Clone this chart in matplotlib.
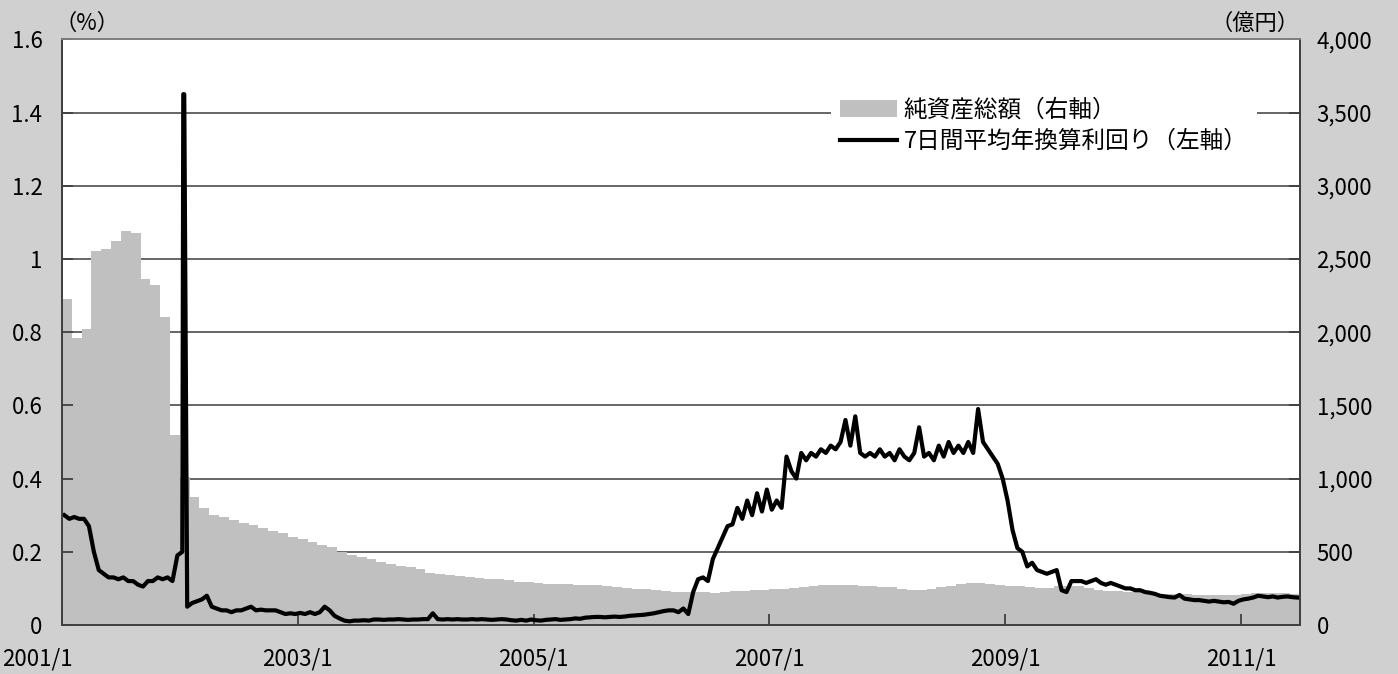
import matplotlib
matplotlib.use("Agg")
import matplotlib.pyplot as plt
from matplotlib.patches import Patch
from matplotlib.lines import Line2D

plt.rcParams['font.family'] = ['Noto Sans CJK JP', 'DejaVu Sans']

# monthly net assets (億円), 2001/1 .. 2011/6
net_assets = [
    2225, 1959, 2020, 2553, 2567, 2621, 2689, 2676, 2362, 2321, 2102, 1297,  # 2001
    1010, 874, 799, 751, 737, 717, 696, 683, 662, 642, 628, 601,             # 2002
    587, 567, 546, 532, 498, 478, 464, 450, 430, 416, 403, 396,              # 2003
    382, 357, 345, 341, 335, 328, 318, 314, 312, 305, 297, 292,              # 2004
    287, 282, 280, 278, 276, 273, 270, 265, 260, 252, 246, 243,              # 2005
    238, 232, 228, 224, 226, 222, 221, 222, 232, 234, 236, 240,              # 2006
    246, 248, 252, 260, 264, 270, 276, 275, 272, 268, 265, 262,              # 2007
    258, 248, 242, 240, 244, 258, 265, 278, 288, 290, 282, 276,              # 2008
    268, 266, 260, 255, 255, 268, 266, 264, 250, 236, 233, 230,              # 2009
    224, 222, 220, 214, 212, 212, 210, 206, 205, 204, 205, 208,              # 2010
    214, 216, 216, 218, 216, 214,                                            # 2011
]

# 7-day average annualised yield (%), sampled twice a month
yield_pct = [
    0.30, 0.29, 0.295, 0.29, 0.29, 0.27, 0.20, 0.15, 0.14, 0.13, 0.13, 0.125,
    0.13, 0.12, 0.12, 0.11, 0.105, 0.12, 0.12, 0.13, 0.125, 0.13, 0.12, 0.19,
    0.20, 0.05, 0.06, 0.065, 0.07, 0.08, 0.05, 0.045, 0.04, 0.04, 0.035, 0.04,
    0.04, 0.045, 0.05, 0.04, 0.042, 0.04, 0.04, 0.04, 0.035, 0.03, 0.032, 0.03,
    0.033, 0.03, 0.035, 0.03, 0.035, 0.05, 0.04, 0.025, 0.018, 0.012, 0.01, 0.012,
    0.012, 0.013, 0.012, 0.015, 0.015, 0.014, 0.015, 0.015, 0.016, 0.015, 0.014, 0.015,
    0.015, 0.016, 0.016, 0.032, 0.016, 0.015, 0.016, 0.015, 0.016, 0.015, 0.015, 0.016,
    0.015, 0.016, 0.015, 0.014, 0.015, 0.016, 0.015, 0.013, 0.012, 0.014, 0.012, 0.015,
    0.013, 0.012, 0.014, 0.015, 0.016, 0.014, 0.015, 0.016, 0.018, 0.017, 0.02, 0.021,
    0.022, 0.022, 0.021, 0.022, 0.023, 0.022, 0.023, 0.025, 0.026, 0.027, 0.028, 0.03,
    0.032, 0.035, 0.038, 0.04, 0.04, 0.035, 0.045, 0.03, 0.09, 0.125, 0.13, 0.12,
    0.18, 0.21, 0.24, 0.27, 0.275, 0.32, 0.29, 0.34, 0.30, 0.36, 0.31, 0.37,
    0.315, 0.34, 0.32, 0.46, 0.42, 0.40, 0.47, 0.45, 0.47, 0.46, 0.48, 0.47,
    0.49, 0.48, 0.50, 0.56, 0.49, 0.57, 0.47, 0.46, 0.47, 0.46, 0.48, 0.46,
    0.47, 0.45, 0.48, 0.46, 0.45, 0.47, 0.54, 0.46, 0.47, 0.45, 0.49, 0.46,
    0.50, 0.47, 0.49, 0.47, 0.50, 0.47, 0.59, 0.50, 0.48, 0.46, 0.44, 0.40,
    0.34, 0.26, 0.21, 0.20, 0.16, 0.17, 0.15, 0.145, 0.14, 0.145, 0.15, 0.095,
    0.09, 0.12, 0.12, 0.12, 0.115, 0.12, 0.125, 0.115, 0.11, 0.115, 0.11, 0.105,
    0.10, 0.10, 0.095, 0.095, 0.09, 0.088, 0.085, 0.08, 0.078, 0.076, 0.075, 0.082,
    0.072, 0.07, 0.068, 0.068, 0.066, 0.064, 0.066, 0.064, 0.062, 0.063, 0.058, 0.066,
    0.07, 0.072, 0.075, 0.08, 0.078, 0.076, 0.078, 0.075, 0.077, 0.078, 0.076, 0.075,
]

# the one-off spike in early 2002 (month index, %)
spike_month = [12.35, 12.45]
spike_pct = [1.45, 1.45]

tick_months = [0, 24, 48, 72, 96, 120]
tick_labels = ["2001/1", "2003/1", "2005/1", "2007/1", "2009/1", "2011/1"]

bar_label = "純資産総額（右軸）"
line_label = "7日間平均年換算利回り（左軸）"

bg = "#d0d0d0"
bar_color = "#c0c0c0"
grid_color = "#5a5a5a"
axis_color = "#404040"
xpad = 16

fig = plt.figure(figsize=(13.98, 6.74), dpi=100, facecolor=bg)
ax2 = fig.add_axes([0.0443, 0.0727, 0.8855, 0.869])
ax = ax2.twinx()
ax.set_zorder(ax2.get_zorder() + 1)
ax.patch.set_visible(False)
ax2.set_facecolor("white")

months = list(range(len(net_assets)))
ax2.bar(months, net_assets, width=1.0, align="edge", color=bar_color, lw=0)

# merge the semi-monthly yield with the spike
xs = [i * 0.5 + 0.25 for i in range(len(yield_pct))] + spike_month
ys = yield_pct + spike_pct
pts = sorted(zip(xs, ys))
ax.plot([p[0] for p in pts], [p[1] for p in pts], color="black", lw=3.0,
        solid_joinstyle="round")

# the line belongs to the left axis, bars to the right one
ax.yaxis.tick_left()
ax2.yaxis.tick_right()
ax.xaxis.set_visible(True)

ax.set_xlim(0, 126)
ax.set_ylim(0, 1.6)
ax2.set_ylim(0, 4000)
ax.set_yticks([i * 0.2 for i in range(9)])
ax.set_yticklabels(["0", "0.2", "0.4", "0.6", "0.8", "1", "1.2", "1.4", "1.6"])
ax2.set_yticks(range(0, 4001, 500))
ax2.set_yticklabels([f"{v:,}" for v in range(0, 4001, 500)])

ax2.set_axisbelow(True)
ax2.yaxis.grid(True, color=grid_color, lw=1.3)
ax2.xaxis.grid(False)

# first date label sits left of the axis corner, so it is drawn separately
ax.set_xticks(tick_months)
ax.set_xticklabels([""] + tick_labels[1:])
ax.annotate(tick_labels[0], xy=(0, 0), xycoords="axes fraction",
            xytext=(-43, -xpad), textcoords="offset points",
            ha="left", va="top", fontsize=16)
ax2.tick_params(axis="x", length=0, labelbottom=False)

ax.tick_params(axis="y", direction="in", length=8, width=1.3, labelsize=16,
               pad=14, color=axis_color)
ax.tick_params(axis="x", direction="in", length=8, width=1.3, labelsize=16,
               pad=xpad, color=axis_color, bottom=True, labelbottom=True)
ax2.tick_params(axis="y", direction="in", length=8, width=1.3, labelsize=16,
                pad=12, color=axis_color)

for a in (ax, ax2):
    for side in ("left", "right", "bottom"):
        a.spines[side].set_color(axis_color)
        a.spines[side].set_linewidth(1.3)
    a.spines["top"].set_color("#808080")
    a.spines["top"].set_linewidth(1.3)

ax.text(-0.006, 1.008, "（%）", transform=ax.transAxes, ha="left", va="bottom",
        fontsize=16)
ax.text(1.0, 1.008, "（億円）", transform=ax.transAxes, ha="right", va="bottom",
        fontsize=16)

handles = [Patch(facecolor=bar_color, edgecolor="none"),
           Line2D([], [], color="black", lw=3.0)]
leg = ax.legend(handles, [bar_label, line_label], loc="upper right",
                bbox_to_anchor=(0.975, 0.935), fontsize=17, frameon=True,
                facecolor="white", edgecolor="none", framealpha=1,
                handlelength=2.4, handleheight=0.7, handletextpad=0.3,
                labelspacing=0.35, borderpad=0.4, fancybox=False)

fig.savefig("out.png", dpi=100, facecolor=bg)
